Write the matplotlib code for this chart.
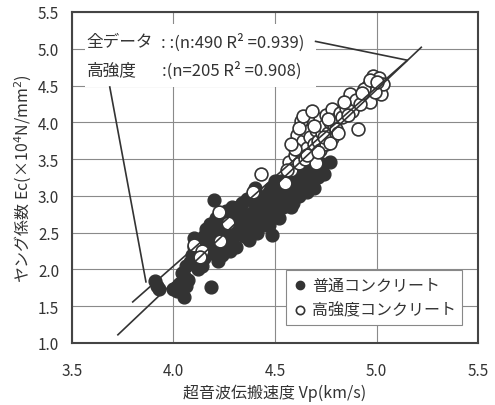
import numpy as np
import matplotlib.pyplot as plt
from matplotlib.patches import Rectangle

plt.rcParams['font.family'] = ['Noto Sans CJK JP', 'DejaVu Sans']

# 普通コンクリート (Vp km/s, Ec x10^4 N/mm2)
normal_vp = [3.91, 3.93, 3.92, 4.00, 4.02, 4.05, 4.03, 4.05, 4.06, 4.04, 4.07, 4.06,
             4.09, 4.10, 4.11, 4.12, 4.13, 4.14, 4.12, 4.15, 4.15, 4.14, 4.10,
             4.17, 4.18, 4.19, 4.20, 4.21, 4.22, 4.23, 4.24, 4.25, 4.18, 4.20, 4.22, 4.24, 4.185,
             4.26, 4.27, 4.28, 4.29, 4.30, 4.31, 4.32, 4.33, 4.34, 4.35, 4.28, 4.30, 4.33,
             4.36, 4.37, 4.38, 4.39, 4.40, 4.41, 4.42, 4.43, 4.44, 4.45, 4.37, 4.40, 4.45,
             4.46, 4.47, 4.48, 4.485, 4.50, 4.51, 4.52, 4.53, 4.54, 4.55, 4.50, 4.47,
             4.56, 4.57, 4.58, 4.59, 4.60, 4.61, 4.62, 4.63, 4.64, 4.65,
             4.66, 4.67, 4.68, 4.70, 4.72, 4.74, 4.77, 4.69,
             4.08, 4.11, 4.13, 4.16, 4.19, 4.21, 4.23, 4.25, 4.26, 4.28, 4.31, 4.32,
             4.34, 4.36, 4.38, 4.41, 4.43, 4.46, 4.48, 4.49, 4.52, 4.53, 4.56, 4.58,
             4.60, 4.62, 4.66, 4.68, 4.71, 4.73, 4.35, 4.42, 4.29, 4.16, 4.21]
normal_ec = [1.84, 1.73, 1.78, 1.73, 1.70, 1.63, 1.80, 1.91, 2.05, 1.95, 1.85, 1.78,
             2.20, 2.30, 2.12, 2.38, 2.25, 2.05, 2.00, 2.45, 2.15, 2.32, 2.42,
             2.50, 2.35, 2.25, 2.60, 2.45, 2.30, 2.55, 2.20, 2.70, 2.62, 2.94, 2.12, 2.40, 1.76,
             2.55, 2.75, 2.40, 2.85, 2.60, 2.30, 2.70, 2.50, 2.90, 2.65, 2.25, 2.45, 2.80,
             2.75, 2.55, 2.95, 2.65, 2.85, 2.50, 3.00, 2.70, 2.90, 2.60, 2.40, 3.10, 2.80,
             2.95, 3.05, 2.75, 2.47, 2.90, 3.10, 2.70, 3.00, 2.85, 3.15, 3.20, 2.60,
             2.95, 3.20, 3.05, 2.90, 3.30, 3.10, 3.00, 3.25, 3.40, 3.15,
             3.30, 3.45, 3.20, 3.35, 3.45, 3.30, 3.46, 3.10,
             2.10, 2.25, 2.40, 2.30, 2.45, 2.70, 2.45, 2.35, 2.80, 2.65, 2.55, 2.85,
             2.60, 2.95, 2.70, 2.75, 2.95, 2.70, 3.10, 2.85, 2.95, 3.20, 3.05, 2.85,
             3.00, 3.35, 3.05, 3.35, 3.25, 3.40, 2.45, 2.60, 2.50, 2.55, 2.20]

# 高強度コンクリート
high_vp = [4.10, 4.14, 4.23, 4.225, 4.27, 4.13, 4.39, 4.43, 4.55, 4.57,
           4.58, 4.60, 4.61, 4.61, 4.62, 4.63, 4.64, 4.65, 4.65, 4.66, 4.67, 4.67,
           4.68, 4.69, 4.70, 4.70, 4.71, 4.72, 4.72, 4.73, 4.74, 4.75, 4.75, 4.76,
           4.77, 4.78, 4.78, 4.79, 4.80, 4.80, 4.82, 4.83, 4.85, 4.87, 4.91, 4.88,
           4.90, 4.95, 4.96, 4.97, 4.98, 5.00, 5.01, 5.02, 5.03, 4.99, 4.94, 4.63, 4.60,
           4.62, 4.64, 4.66, 4.69, 4.71, 4.74, 4.76, 4.77, 4.81, 4.84, 4.86, 4.92,
           4.93, 4.97, 5.00, 4.58, 4.56, 4.68]
high_ec = [2.33, 2.25, 2.38, 2.78, 2.63, 2.17, 3.05, 3.30, 3.18, 3.46,
           3.35, 3.55, 3.68, 3.83, 3.45, 3.60, 3.75, 3.50, 3.90, 3.65, 3.80, 4.05,
           3.55, 3.70, 3.90, 3.45, 3.75, 4.05, 3.62, 3.85, 3.95, 3.70, 4.10, 3.85,
           4.00, 3.78, 4.18, 3.95, 4.05, 3.91, 4.12, 4.07, 4.20, 4.38, 3.91, 4.15,
           4.30, 4.35, 4.50, 4.28, 4.63, 4.45, 4.60, 4.38, 4.52, 4.41, 4.45, 4.02, 3.64,
           3.92, 4.08, 3.55, 3.95, 3.60, 3.80, 4.05, 3.72, 3.85, 4.28, 4.10, 4.25,
           4.40, 4.58, 4.55, 3.70, 3.35, 4.15]

# 回帰直線の端点
all_line_vp = [3.727, 5.22]
all_line_ec = [1.11, 5.02]
high_line_vp = [3.80, 5.15]
high_line_ec = [1.557, 4.84]

ink = '#333333'

fig = plt.figure(figsize=(4.95, 4.06), dpi=100)
ax = fig.add_axes([0.145, 0.153, 0.821, 0.815])

ax.set_xlim(3.5, 5.5)
ax.set_ylim(1.0, 5.5)
ax.set_xticks(np.arange(3.5, 5.51, 0.5))
ax.set_yticks(np.arange(1.0, 5.51, 0.5))
ax.xaxis.set_major_formatter(plt.FormatStrFormatter('%.1f'))
ax.yaxis.set_major_formatter(plt.FormatStrFormatter('%.1f'))
ax.tick_params(length=0, labelsize=11, colors=ink)
ax.tick_params(axis='x', pad=14)
ax.tick_params(axis='y', pad=9)
ax.grid(True, color='#8a8a8a', lw=0.8)
ax.set_axisbelow(True)
for s in ax.spines.values():
    s.set_color('#444444')
    s.set_linewidth(1.5)

# 凡例文字の背景
ax.add_patch(Rectangle((0.032, 0.773), 0.568, 0.19, transform=ax.transAxes,
                       facecolor='white', edgecolor='none', zorder=1))

ax.scatter(normal_vp, normal_ec, s=85, color=ink, zorder=2, label='普通コンクリート')
ax.scatter(high_vp, high_ec, s=85, facecolor='white', edgecolor=ink, lw=1.2, zorder=3,
           label='高強度コンクリート')

ax.plot(all_line_vp, all_line_ec, color=ink, lw=1.2, zorder=4)
ax.plot(high_line_vp, high_line_ec, color=ink, lw=1.2, zorder=4)

# 引出線
ax.plot([4.70, 5.15], [5.10, 4.845], color=ink, lw=1.2, zorder=4)
ax.plot([3.687, 3.865], [4.48, 1.83], color=ink, lw=1.2, zorder=4)

ax.text(3.574, 5.10, '全データ', fontsize=12, color=ink, va='center', zorder=5)
ax.text(3.94, 5.10, ': :(n:490 R² =0.939)', fontsize=12, color=ink, va='center', zorder=5)
ax.text(3.574, 4.72, '高強度', fontsize=12, color=ink, va='center', zorder=5)
ax.text(3.945, 4.72, ':(n=205 R² =0.908)', fontsize=12, color=ink, va='center', zorder=5)

ax.set_xlabel('超音波伝搬速度 Vp(km/s)', fontsize=11.5, color=ink, labelpad=3)
ax.set_ylabel('ヤング係数 Ec(×10$^4$N/mm$^2$)', fontsize=11.5, color=ink, labelpad=3)

leg = ax.legend(loc='lower right', bbox_to_anchor=(0.98, 0.03), fontsize=11.5,
                frameon=True, fancybox=False, edgecolor='#888888', framealpha=1,
                handletextpad=0.2, borderpad=0.4, labelspacing=0.5,
                markerscale=0.65, handlelength=1.0)
leg.get_frame().set_linewidth(0.8)
for t in leg.get_texts():
    t.set_color(ink)

fig.savefig('out.png', dpi=100, facecolor='white')
